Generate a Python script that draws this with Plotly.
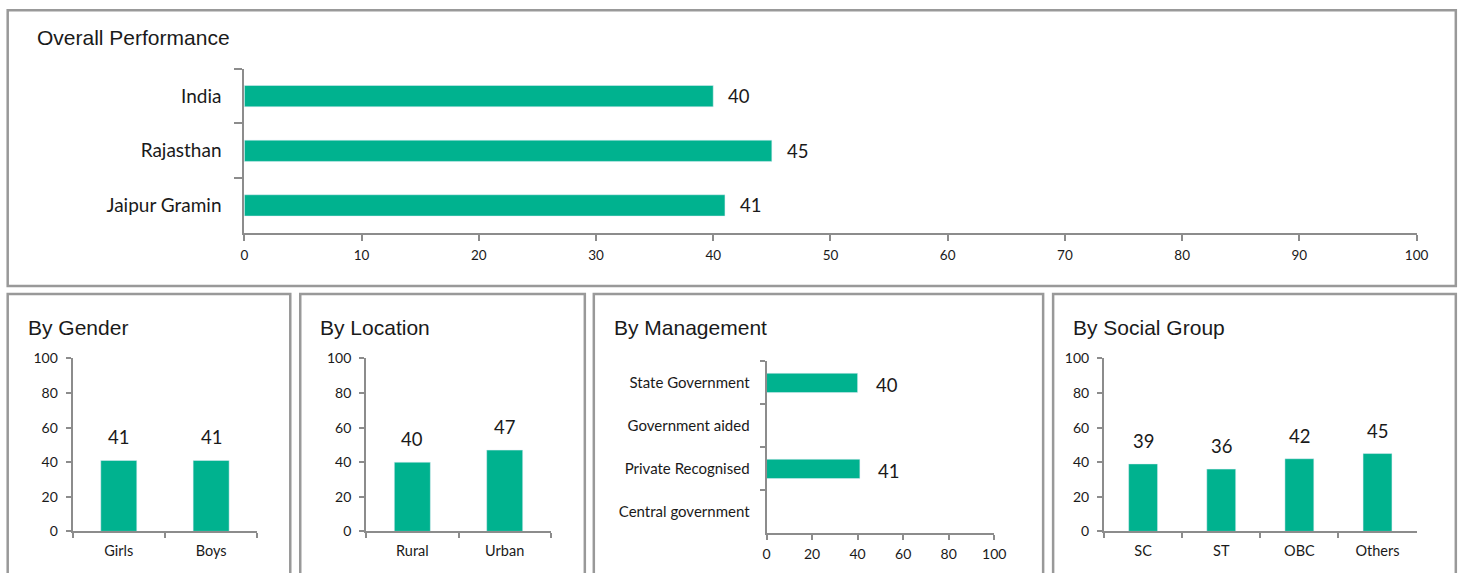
import plotly.graph_objects as go

W, H = 1469, 573

# ---- data ----
overall_cats = ["India", "Rajasthan", "Jaipur Gramin"]
overall_vals = [40, 45, 41]

gender_cats = ["Girls", "Boys"]
gender_vals = [41, 41]

location_cats = ["Rural", "Urban"]
location_vals = [40, 47]

mgmt_cats = ["State Government", "Government aided", "Private Recognised", "Central government"]
mgmt_vals = [40, None, 41, None]

social_cats = ["SC", "ST", "OBC", "Others"]
social_vals = [39, 36, 42, 45]

value_ticks_overall = list(range(0, 101, 10))
value_ticks_small = list(range(0, 101, 20))

# ---- style ----
BAR = "#00B28F"
AXIS = "#8C8C8C"
BORDER = "#999999"
TICKFONT = "Lato"
TITLEFONT = "Liberation Sans"
TXT = "#1a1a1a"

# layout positions are specified in picture pixels; small correction for how the page is photographed
SX, OX = 0.9906, 2.3
SY, OY = 0.965, 10.5


def px(x):
    return min(max((x - OX) / SX, 1.2), W - 1.2) / W


def py(y):
    return 1 - min(max((y - OY) / SY, 1.2), H + 40) / H


fig = go.Figure()

fig.add_trace(go.Bar(x=overall_vals, y=overall_cats, orientation="h", marker_color=BAR,
                     width=0.39, xaxis="x", yaxis="y"))
fig.add_trace(go.Bar(x=gender_cats, y=gender_vals, marker_color=BAR, width=0.39,
                     xaxis="x2", yaxis="y2"))
fig.add_trace(go.Bar(x=location_cats, y=location_vals, marker_color=BAR, width=0.39,
                     xaxis="x3", yaxis="y3"))
fig.add_trace(go.Bar(x=mgmt_vals, y=mgmt_cats, orientation="h", marker_color=BAR,
                     width=0.45, xaxis="x4", yaxis="y4"))
fig.add_trace(go.Bar(x=social_cats, y=social_vals, marker_color=BAR, width=0.37,
                     xaxis="x5", yaxis="y5"))

common_line = dict(showline=True, linecolor=AXIS, linewidth=2, showgrid=False,
                   zeroline=False, ticks="outside", tickcolor=AXIS, tickwidth=2,
                   fixedrange=True)

layout = dict(
    width=W, height=H, margin=dict(l=0, r=0, t=0, b=0),
    paper_bgcolor="white", plot_bgcolor="white", showlegend=False,
)

layout["xaxis"] = dict(domain=[px(243), px(1417)], anchor="y", range=[0, 100],
                       tickvals=value_ticks_overall, ticklen=6, ticklabelstandoff=3,
                       tickfont=dict(family=TICKFONT, size=13.5, color=TXT), **common_line)
layout["yaxis"] = dict(domain=[py(233), py(70)], anchor="x", categoryorder="array",
                       categoryarray=overall_cats, autorange="reversed",
                       tickson="boundaries", ticklen=8, ticklabelstandoff=17,
                       tickfont=dict(family=TICKFONT, size=19, color=TXT), **common_line)

small_vert = [("x2", "y2", 71, 256, gender_cats),
              ("x3", "y3", 365, 550, location_cats),
              ("x5", "y5", 1104, 1417, social_cats)]
for xa, ya, x0, x1, cats in small_vert:
    xk = "xaxis" + xa[1:]
    yk = "yaxis" + ya[1:]
    layout[xk] = dict(domain=[px(x0), px(x1)], anchor=ya, categoryorder="array",
                      categoryarray=cats, tickson="boundaries", ticklen=5, ticklabelstandoff=5,
                      tickfont=dict(family=TICKFONT, size=14.5, color=TXT), **common_line)
    layout[yk] = dict(domain=[py(530), py(358)], anchor=xa, range=[0, 100],
                      tickvals=value_ticks_small, ticklen=5, ticklabelstandoff=5,
                      tickfont=dict(family=TICKFONT, size=14, color=TXT), **common_line)

layout["xaxis4"] = dict(domain=[px(766), px(994)], anchor="y4", range=[0, 100],
                        tickvals=value_ticks_small, ticklen=5, ticklabelstandoff=2,
                        tickfont=dict(family=TICKFONT, size=14, color=TXT), **common_line)
layout["yaxis4"] = dict(domain=[py(532), py(361)], anchor="x4", categoryorder="array",
                        categoryarray=mgmt_cats, autorange="reversed",
                        tickson="boundaries", ticklen=5, ticklabelstandoff=12,
                        tickfont=dict(family=TICKFONT, size=15, color=TXT), **common_line)

annotations = []
for c, v in zip(overall_cats, overall_vals):
    annotations.append(dict(x=v, y=c, xref="x", yref="y", text=str(v), showarrow=False,
                            xanchor="left", xshift=13, font=dict(family=TICKFONT, size=18.5, color=TXT)))
for c, v in zip(mgmt_cats, mgmt_vals):
    if v is not None:
        annotations.append(dict(x=v, y=c, xref="x4", yref="y4", text=str(v), showarrow=False,
                                xanchor="left", xshift=16, yshift=-2,
                                font=dict(family=TICKFONT, size=18.5, color=TXT)))
for xa, ya, cats, vals in [("x2", "y2", gender_cats, gender_vals),
                           ("x3", "y3", location_cats, location_vals),
                           ("x5", "y5", social_cats, social_vals)]:
    for c, v in zip(cats, vals):
        annotations.append(dict(x=c, y=v, xref=xa, yref=ya, text=str(v), showarrow=False,
                                yanchor="middle", yshift=23,
                                font=dict(family=TICKFONT, size=18.5, color=TXT)))

titles = [("Overall Performance", 33, 39), ("By Gender", 24, 327), ("By Location", 317, 327),
          ("By Management", 611, 327), ("By Social Group", 1071, 327)]
for t, x, y in titles:
    annotations.append(dict(x=px(x), y=py(y), xref="paper", yref="paper", text=t,
                            showarrow=False, xanchor="left", yanchor="middle",
                            font=dict(family=TITLEFONT, size=21, color=TXT)))
layout["annotations"] = annotations

panels = [(6, 6, 1463, 286), (6, 294, 289, 620), (299, 294, 584, 620),
          (593, 294, 1043, 620), (1053, 294, 1463, 620)]
shapes = []
for x0, y0, x1, y1 in panels:
    shapes.append(dict(type="rect", xref="paper", yref="paper", x0=px(x0), x1=px(x1),
                       y0=py(y1), y1=py(y0), line=dict(color=BORDER, width=2.5),
                       fillcolor="rgba(0,0,0,0)", layer="below"))
layout["shapes"] = shapes

fig.update_layout(**layout)
fig.write_html("out.html", config={"displayModeBar": False},
               post_script="document.body.style.margin='0';document.body.style.overflow='hidden';")
